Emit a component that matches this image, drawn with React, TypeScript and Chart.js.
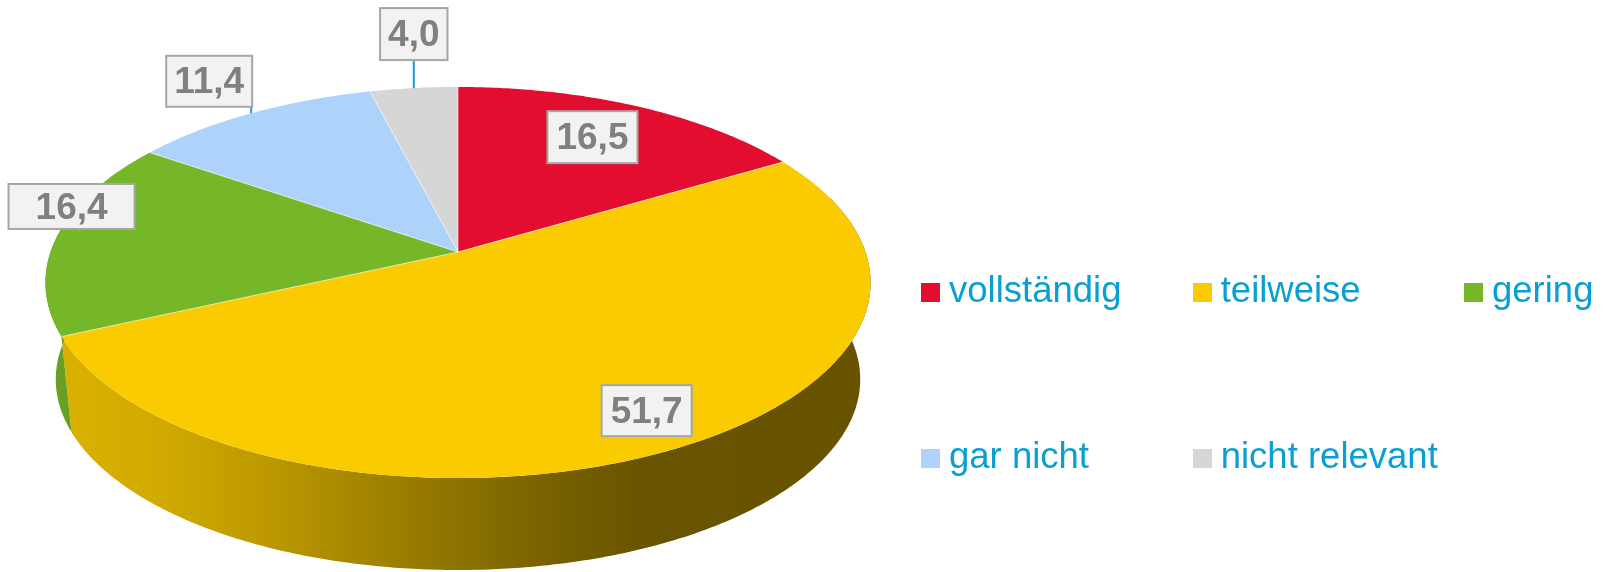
import React, { useEffect, useRef } from 'react';
import { Chart, registerables } from 'chart.js';

Chart.register(...registerables);

// ---------- data ----------
const categories = ['vollständig', 'teilweise', 'gering', 'gar nicht', 'nicht relevant'];
const values = [16.5, 51.7, 16.4, 11.4, 4.0];
const valueLabels = ['16,5', '51,7', '16,4', '11,4', '4,0'];
const colors = ['#E20D2F', '#FACB00', '#76B72A', '#ADD3FA', '#D6D6D6'];

// ---------- label placement (style) ----------
const labelRadius = [0.75, 0.83, 1, 1, 1];
const labelDx = [-3, 12, 14, -42, 0];
const labelDy = [-2, 0, -29, -32, -54];
const labelLeader = [false, false, false, true, true];
const labelPadX = [9, 9, 27, 8, 8];
const labelBoxH = [52, 51, 45, 51, 52];

// ---------- 3D projection (style) ----------
const PERSP = 0.156;
const RX = 407.5;
const RY = 190.8;
const BOTTOM_SCALE = 0.975;
const DEPTH = 97.6;
const shadeX = [45, 150, 250, 360, 460, 560, 640, 870];
const shadeF = [0.88, 0.84, 0.77, 0.66, 0.56, 0.47, 0.42, 0.41];

function hexToRgb(h: string) {
  const n = parseInt(h.slice(1), 16);
  return [(n >> 16) & 255, (n >> 8) & 255, n & 255];
}

function proj(cx: number, cy: number, alpha: number, r: number, bottom: boolean) {
  const u = r * Math.cos(alpha);
  const v = -r * Math.sin(alpha);
  const d = 1 + PERSP * v;
  const s = bottom ? BOTTOM_SCALE : 1;
  return [cx + (s * RX * u) / d, cy - (s * RY * v) / d + (bottom ? DEPTH : 0)];
}

function arcPoints(cx: number, cy: number, a0: number, a1: number, bottom: boolean) {
  const n = Math.max(4, Math.ceil(Math.abs(a1 - a0) / 0.01));
  const pts: number[][] = [];
  for (let k = 0; k <= n; k++) {
    const a = a0 + ((a1 - a0) * k) / n;
    pts.push(proj(cx, cy, a, 1, bottom));
  }
  return pts;
}

const pie3d = {
  id: 'pie3d',
  beforeDatasetsDraw(chart: any) {
    const ctx = chart.ctx as CanvasRenderingContext2D;
    const meta = chart.getDatasetMeta(0);
    const arcs = meta.data;
    if (!arcs.length) return false;
    const cx = arcs[0].x;
    const cy = arcs[0].y;
    ctx.save();
    // sides
    arcs.forEach((arc: any, i: number) => {
      const { startAngle, endAngle } = arc.getProps(['startAngle', 'endAngle'], true);
      const lo = Math.max(startAngle, -0.3);
      const hi = Math.min(endAngle, Math.PI + 0.3);
      if (hi <= lo) return;
      const top = arcPoints(cx, cy, lo, hi, false);
      const bot = arcPoints(cx, cy, hi, lo, true);
      ctx.beginPath();
      top.forEach((p, k) => (k === 0 ? ctx.moveTo(p[0], p[1]) : ctx.lineTo(p[0], p[1])));
      bot.forEach((p) => ctx.lineTo(p[0], p[1]));
      ctx.closePath();
      const [r, g, b] = hexToRgb(colors[i]);
      const x0 = shadeX[0];
      const x1 = shadeX[shadeX.length - 1];
      const grad = ctx.createLinearGradient(x0, 0, x1, 0);
      shadeX.forEach((x, k) => {
        const f = shadeF[k];
        grad.addColorStop((x - x0) / (x1 - x0), `rgb(${Math.round(r * f)},${Math.round(g * f)},${Math.round(b * f)})`);
      });
      ctx.fillStyle = grad;
      ctx.fill();
    });
    // top faces
    arcs.forEach((arc: any, i: number) => {
      const { startAngle, endAngle } = arc.getProps(['startAngle', 'endAngle'], true);
      const pts = arcPoints(cx, cy, startAngle, endAngle, false);
      ctx.beginPath();
      ctx.moveTo(cx, cy);
      pts.forEach((p) => ctx.lineTo(p[0], p[1]));
      ctx.closePath();
      ctx.fillStyle = colors[i];
      ctx.fill();
    });
    // separators
    ctx.strokeStyle = 'rgba(255,255,255,0.55)';
    ctx.lineWidth = 1;
    arcs.forEach((arc: any) => {
      const { startAngle } = arc.getProps(['startAngle'], true);
      const p = proj(cx, cy, startAngle, 1, false);
      ctx.beginPath();
      ctx.moveTo(cx, cy);
      ctx.lineTo(p[0], p[1]);
      ctx.stroke();
    });
    ctx.restore();
    return false;
  },
  afterDraw(chart: any) {
    const ctx = chart.ctx as CanvasRenderingContext2D;
    const meta = chart.getDatasetMeta(0);
    const arcs = meta.data;
    if (!arcs.length) return;
    const cx = arcs[0].x;
    const cy = arcs[0].y;
    ctx.save();
    ctx.font = 'bold 37px "Liberation Sans", Arial, sans-serif';
    ctx.textAlign = 'center';
    ctx.textBaseline = 'middle';
    arcs.forEach((arc: any, i: number) => {
      const { startAngle, endAngle } = arc.getProps(['startAngle', 'endAngle'], true);
      const mid = (startAngle + endAngle) / 2;
      const a = proj(cx, cy, mid, labelRadius[i], false);
      const bx = a[0] + labelDx[i];
      const by = a[1] + labelDy[i];
      const tw = ctx.measureText(valueLabels[i]).width;
      const w = tw + 2 * labelPadX[i];
      const h = labelBoxH[i];
      if (labelLeader[i]) {
        const e = proj(cx, cy, mid, 1, false);
        ctx.strokeStyle = '#1E9BD7';
        ctx.lineWidth = 2;
        ctx.beginPath();
        ctx.moveTo(e[0], e[1]);
        ctx.lineTo(e[0], by + h / 2);
        ctx.stroke();
      }
      ctx.fillStyle = '#F2F2F2';
      ctx.fillRect(bx - w / 2, by - h / 2, w, h);
      ctx.strokeStyle = '#A6A6A6';
      ctx.lineWidth = 2;
      ctx.strokeRect(bx - w / 2, by - h / 2, w, h);
      ctx.fillStyle = '#808080';
      ctx.fillText(valueLabels[i], bx, by + 2);
    });
    ctx.restore();
  },
};

const legendCols = [921, 1192.7, 1464];
const legendRows = [272.4, 438.4];

export default function App() {
  const ref = useRef<HTMLCanvasElement | null>(null);
  useEffect(() => {
    if (!ref.current) return;
    const chart = new Chart(ref.current, {
      type: 'pie',
      data: {
        labels: categories,
        datasets: [{ data: values, backgroundColor: colors, borderWidth: 0 }],
      },
      options: {
        animation: false,
        responsive: false,
        layout: { padding: { left: 0, top: 0, right: 688, bottom: 68 } },
        plugins: { legend: { display: false }, tooltip: { enabled: false } },
      },
      plugins: [pie3d],
    });
    return () => chart.destroy();
  }, []);

  return (
    <div style={{ position: 'fixed', left: 0, top: 0, width: 1604, height: 572, background: '#fff' }}>
      <canvas ref={ref} width={1604} height={572} style={{ position: 'absolute', left: 0, top: 0 }} />
      {categories.map((c, i) => {
        const col = i < 3 ? i : i - 3;
        const row = i < 3 ? 0 : 1;
        return (
          <div
            key={c}
            style={{
              position: 'absolute',
              left: legendCols[col],
              top: legendRows[row],
              display: 'flex',
              alignItems: 'flex-start',
              whiteSpace: 'nowrap',
            }}
          >
            <div style={{ width: 19, height: 19, marginTop: 11, background: colors[i], flex: 'none' }} />
            <div
              style={{
                marginLeft: 9,
                font: '36.5px/36.5px "Liberation Sans", Arial, sans-serif',
                color: '#0A9FD3',
              }}
            >
              {c}
            </div>
          </div>
        );
      })}
    </div>
  );
}
